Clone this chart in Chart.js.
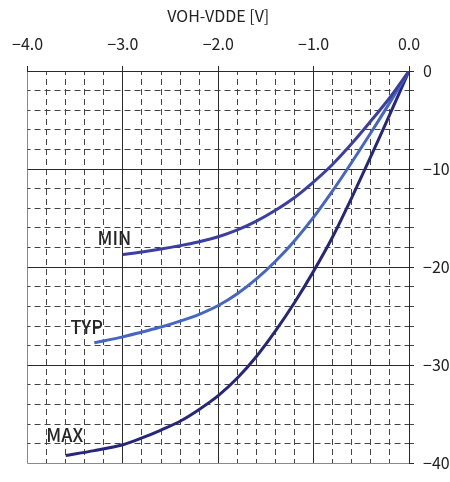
<!DOCTYPE html>
<html>
<head>
<meta charset="utf-8">
<script src="https://cdn.jsdelivr.net/npm/chart.js@4"></script>
<style>
  body { margin: 0; background: #fff; }
</style>
</head>
<body>
<canvas id="vis" width="450" height="482"></canvas>
<script>
// VOH-VDDE [V] vs output current, three process corners
const MIN_X = [0, -0.2, -0.4, -0.6, -0.8, -1.0, -1.2, -1.4, -1.6, -1.8, -2.0, -2.2, -2.4, -2.6, -2.8, -3.0];
const MIN_Y = [0, -2.7, -5.1, -7.4, -9.5, -11.3, -12.9, -14.2, -15.3, -16.2, -16.9, -17.4, -17.8, -18.15, -18.45, -18.7];

const TYP_X = [0, -0.2, -0.4, -0.6, -0.8, -1.0, -1.2, -1.4, -1.6, -1.8, -2.0, -2.2, -2.4, -2.6, -2.8, -3.0, -3.3];
const TYP_Y = [0, -3.2, -6.3, -9.3, -12.2, -14.9, -17.3, -19.4, -21.2, -22.7, -23.9, -24.8, -25.5, -26.1, -26.6, -27.1, -27.7];

const MAX_X = [0, -0.2, -0.4, -0.6, -0.8, -1.0, -1.2, -1.4, -1.6, -1.8, -2.0, -2.2, -2.4, -2.6, -2.8, -3.0, -3.3, -3.6];
const MAX_Y = [0, -4.4, -8.7, -12.9, -16.9, -20.4, -23.6, -26.5, -29.1, -31.3, -33.1, -34.5, -35.7, -36.6, -37.4, -38.1, -38.7, -39.2];

const SERIES_NAMES = ['MIN', 'TYP', 'MAX'];
// where the curve names are written (data units)
const NAME_X = [-3.09, -3.38, -3.61];
const NAME_Y = [-17.0, -26.1, -37.1];

const X_TITLE = 'VOH-VDDE [V]';

Chart.defaults.font.family = '"Noto Sans CJK JP", "Noto Sans", sans-serif';
Chart.defaults.color = '#222';

function pts(xs, ys) {
    return xs.map((x, i) => ({x: x, y: ys[i]}));
}
function isWhole(v, step) {
    return Math.abs(v / step - Math.round(v / step)) < 1e-6;
}
function fmt(v, dec) {
    const s = Math.abs(v).toFixed(dec);
    return v < -1e-9 ? '\u2212' + s : s;
}

const nameLabels = {
    id: 'nameLabels',
    afterDatasetsDraw(chart) {
        const c = chart.ctx;
        const xs = chart.scales.x, ys = chart.scales.y;
        c.save();
        c.font = '500 18px "Noto Sans CJK JP", sans-serif';
        c.fillStyle = '#262626';
        c.textAlign = 'center';
        c.textBaseline = 'middle';
        SERIES_NAMES.forEach((n, i) => {
            c.fillText(n, xs.getPixelForValue(NAME_X[i]), ys.getPixelForValue(NAME_Y[i]));
        });
        c.restore();
    }
};

const ctx = document.getElementById('vis').getContext('2d');
const myChart = new Chart(ctx, {
    type: 'scatter',
    data: {
        datasets: [
            {label: 'MIN', data: pts(MIN_X, MIN_Y), borderColor: '#3b3fa3'},
            {label: 'TYP', data: pts(TYP_X, TYP_Y), borderColor: '#4566c4'},
            {label: 'MAX', data: pts(MAX_X, MAX_Y), borderColor: '#25267c'}
        ].map(d => Object.assign(d, {
            showLine: true,
            borderWidth: 3,
            pointRadius: 0,
            tension: 0.3,
            fill: false
        }))
    },
    options: {
        responsive: false,
        animation: false,
        layout: {padding: {left: 26, right: 0, top: 0, bottom: 10}},
        plugins: {
            legend: {display: false},
            tooltip: {enabled: false}
        },
        scales: {
            x: {
                type: 'linear',
                position: 'top',
                min: -4, max: 0,
                ticks: {
                    stepSize: 0.2,
                    autoSkip: false,
                    maxRotation: 0,
                    padding: 12,
                    font: {size: 16},
                    color: '#222',
                    // empty string keeps the minor grid line, null would hide it
                    callback: v => isWhole(v, 1) ? fmt(v, 1) : ''
                },
                grid: {
                    color: c => {
                        if (!c.tick) return '#333';
                        if (Math.abs(c.tick.value + 4) < 1e-6) return '#8a8a8a';
                        return isWhole(c.tick.value, 1) ? '#2a2a2a' : '#444';
                    },
                    lineWidth: 1,
                    tickLength: 5,
                    tickColor: c => (c.tick && isWhole(c.tick.value, 1)) ? '#2a2a2a' : 'rgba(0,0,0,0)'
                },
                border: {
                    color: '#2a2a2a',
                    dash: c => (c.tick && !isWhole(c.tick.value, 1)) ? [6, 4] : [],
                    dashOffset: 3
                },
                title: {
                    display: true,
                    text: X_TITLE,
                    font: {size: 16},
                    color: '#222',
                    padding: {top: 6, bottom: 0}
                },
                afterFit: s => { s.height = 71; }
            },
            y: {
                type: 'linear',
                position: 'right',
                min: -40, max: 0,
                ticks: {
                    stepSize: 2,
                    autoSkip: false,
                    padding: 9,
                    font: {size: 16},
                    color: '#222',
                    callback: v => isWhole(v, 10) ? fmt(v, 0) : ''
                },
                grid: {
                    color: c => {
                        if (!c.tick) return '#333';
                        if (Math.abs(c.tick.value + 40) < 1e-6) return '#8a8a8a';
                        return isWhole(c.tick.value, 10) ? '#2a2a2a' : '#444';
                    },
                    lineWidth: 1,
                    tickLength: 5,
                    tickColor: c => (c.tick && isWhole(c.tick.value, 10)) ? '#2a2a2a' : '#444'
                },
                border: {
                    color: '#2a2a2a',
                    dash: c => (c.tick && !isWhole(c.tick.value, 10)) ? [6, 4] : [],
                    dashOffset: 3
                },
                afterFit: s => { s.width = 41; }
            }
        }
    },
    plugins: [nameLabels]
});
</script>
</body>
</html>
